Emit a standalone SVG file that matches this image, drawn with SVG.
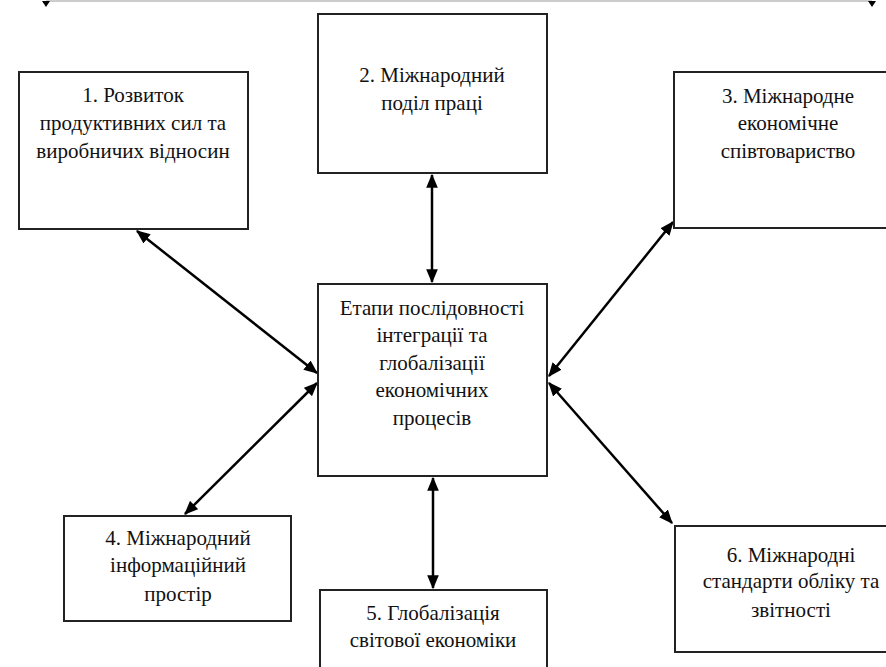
<svg xmlns="http://www.w3.org/2000/svg" width="886" height="667" viewBox="0 0 886 667">
<defs>
<marker id="ah" viewBox="0 0 12 10" refX="11" refY="5" markerWidth="14" markerHeight="12" markerUnits="userSpaceOnUse" orient="auto-start-reverse">
<path d="M0,0 L12,5 L0,10 Z" fill="#000"/>
</marker>
</defs>
<g id="top-line">
<line x1="46" y1="1" x2="872" y2="1" stroke="#bbb" stroke-width="1.5"/>
<path d="M42,1 L50,1 L46,7 Z" fill="#000"/>
<path d="M868,1 L876,1 L872,7 Z" fill="#000"/>
</g>
<g id="connectors" stroke="#000" stroke-width="2.5" fill="none" marker-start="url(#ah)" marker-end="url(#ah)">
<line x1="432" y1="175" x2="432" y2="282"/>
<line x1="433" y1="478" x2="433" y2="588"/>
<line x1="137" y1="231" x2="317" y2="373"/>
<line x1="185" y1="514" x2="317" y2="383"/>
<line x1="673" y1="222" x2="549" y2="376"/>
<line x1="549" y1="383" x2="672" y2="523"/>
</g>
<g id="nodes" font-family="Liberation Serif" font-size="21" fill="#111" text-anchor="middle">
<g id="node1">
<rect x="19" y="72" width="229" height="157" fill="#fff" stroke="#222" stroke-width="2"/>
<text x="133" y="102" font-family="Liberation Serif">1. Розвиток</text>
<text x="133" y="130" font-family="Liberation Serif">продуктивних сил та</text>
<text x="133" y="158" font-family="Liberation Serif">виробничих відносин</text>
</g>
<g id="node2">
<rect x="318" y="14" width="229" height="159" fill="#fff" stroke="#222" stroke-width="2"/>
<text x="432" y="82" font-family="Liberation Serif">2. Міжнародний</text>
<text x="432" y="110" font-family="Liberation Serif">поділ праці</text>
</g>
<g id="node3">
<rect x="674" y="72" width="230" height="156" fill="#fff" stroke="#222" stroke-width="2"/>
<text x="788" y="103" font-family="Liberation Serif">3. Міжнародне</text>
<text x="788" y="130" font-family="Liberation Serif">економічне</text>
<text x="788" y="158" font-family="Liberation Serif">співтовариство</text>
</g>
<g id="center">
<rect x="318" y="284" width="229" height="192" fill="#fff" stroke="#222" stroke-width="2"/>
<text x="432" y="315" font-family="Liberation Serif">Етапи послідовності</text>
<text x="432" y="342" font-family="Liberation Serif">інтеграції та</text>
<text x="432" y="370" font-family="Liberation Serif">глобалізації</text>
<text x="432" y="397" font-family="Liberation Serif">економічних</text>
<text x="432" y="425" font-family="Liberation Serif">процесів</text>
</g>
<g id="node4">
<rect x="64" y="516" width="227" height="105" fill="#fff" stroke="#222" stroke-width="2"/>
<text x="178" y="545" font-family="Liberation Serif">4. Міжнародний</text>
<text x="178" y="572" font-family="Liberation Serif">інформаційний</text>
<text x="178" y="601" font-family="Liberation Serif">простір</text>
</g>
<g id="node5">
<rect x="320" y="590" width="227" height="100" fill="#fff" stroke="#222" stroke-width="2"/>
<text x="433" y="620" font-family="Liberation Serif">5. Глобалізація</text>
<text x="433" y="647" font-family="Liberation Serif">світової економіки</text>
</g>
<g id="node6">
<rect x="675" y="526" width="230" height="126" fill="#fff" stroke="#222" stroke-width="2"/>
<text x="791" y="562" font-family="Liberation Serif">6. Міжнародні</text>
<text x="791" y="588" font-family="Liberation Serif">стандарти обліку та</text>
<text x="791" y="617" font-family="Liberation Serif">звітності</text>
</g>
</g>
</svg>
